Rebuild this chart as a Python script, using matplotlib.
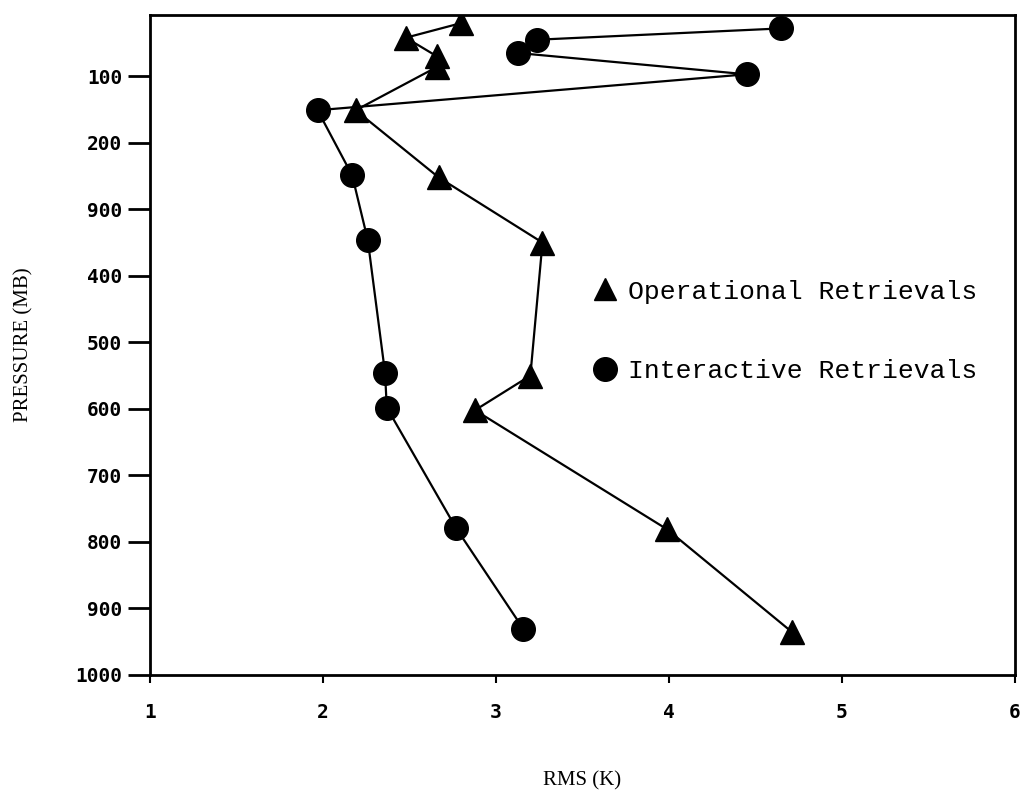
import numpy as np
import matplotlib
matplotlib.use("Agg")
import matplotlib.pyplot as plt
from matplotlib.lines import Line2D

# operational retrievals (triangles)
op_rms = [2.80, 2.48, 2.66, 2.66, 2.19, 2.67, 3.27, 3.20, 2.88, 3.99, 4.71]
op_p = [20, 42, 70, 86, 151, 252, 350, 550, 602, 781, 935]

# interactive retrievals (circles)
in_rms = [4.65, 3.24, 3.13, 4.45, 1.97, 2.17, 2.26, 2.36, 2.37, 2.77, 3.16]
in_p = [28, 45, 65, 97, 151, 249, 346, 546, 598, 779, 931]

yticks = [100, 200, 300, 400, 500, 600, 700, 800, 900, 1000]
ytick_labels = ["100", "200", "900", "400", "500", "600", "700", "800", "900", "1000"]
xticks = [1, 2, 3, 4, 5, 6]

fig = plt.figure(figsize=(10.26, 7.95), dpi=100)
ax = fig.add_axes([0.146, 0.151, 0.843, 0.830])

ax.plot(op_rms, op_p, color="black", lw=1.6, marker="^", ms=17, zorder=3)
ax.plot(in_rms, in_p, color="black", lw=1.6, marker="o", ms=17, zorder=3)

ax.set_xlim(1, 6)
ax.set_ylim(1000, 8)
ax.set_yticks(yticks)
ax.set_yticklabels(ytick_labels)
ax.set_xticks(xticks)

for s in ax.spines.values():
    s.set_linewidth(2)

ax.tick_params(axis="y", direction="out", length=16, width=2, pad=4, labelsize=14)
ax.tick_params(axis="x", direction="out", length=6, width=1.5, pad=14, labelsize=14)
for lab in ax.get_xticklabels() + ax.get_yticklabels():
    lab.set_family("DejaVu Sans Mono")
    lab.set_weight("bold")

ax.set_ylabel("PRESSURE (MB)", family="Liberation Serif", fontsize=15, labelpad=30)
ax.set_xlabel("RMS (K)", family="Liberation Serif", fontsize=15, labelpad=36)

handles = [
    Line2D([], [], color="black", marker="^", ls="none", ms=16),
    Line2D([], [], color="black", marker="o", ms=17, ls="none"),
]
ax.legend(handles, ["Operational Retrievals", "Interactive Retrievals"],
          loc="upper left", bbox_to_anchor=(0.48, 0.635), frameon=False,
          prop={"family": "Liberation Mono", "size": 19},
          handletextpad=0.3, labelspacing=2.1, handlelength=1.2)

fig.savefig("out.png", dpi=100)
